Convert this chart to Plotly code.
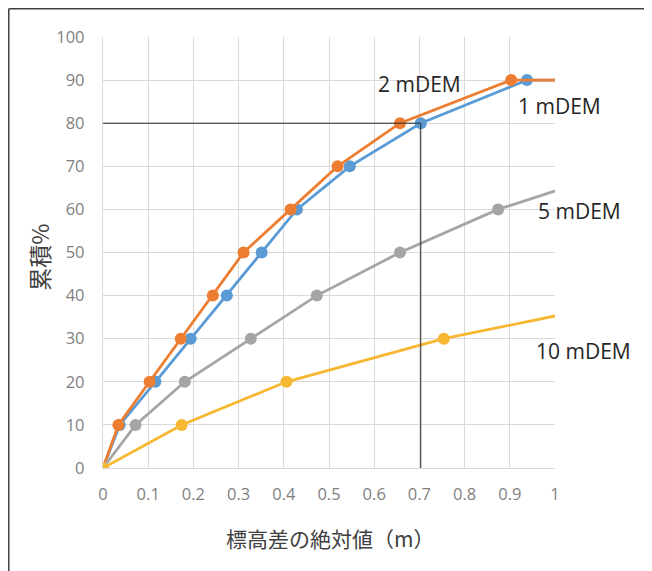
import plotly.graph_objects as go

y_levels = [0, 10, 20, 30, 40, 50, 60, 70, 80, 90, 90]
x_1m = [0, 0.037, 0.116, 0.194, 0.274, 0.351, 0.429, 0.546, 0.703, 0.938, 1.2]
x_2m = [0, 0.034, 0.103, 0.172, 0.243, 0.311, 0.415, 0.519, 0.657, 0.903, 1.2]
y_5m = [0, 10, 20, 30, 40, 50, 60, 70]
x_5m = [0, 0.072, 0.181, 0.327, 0.473, 0.657, 0.874, 1.17]
y_10m = [0, 10, 20, 30, 40]
x_10m = [0, 0.174, 0.406, 0.754, 1.22]

series = [
    ("1 mDEM", x_1m, y_levels, "#5b9bd5"),
    ("2 mDEM", x_2m, y_levels, "#ed7d31"),
    ("5 mDEM", x_5m, y_5m, "#a5a5a5"),
    ("10 mDEM", x_10m, y_10m, "#f7b731"),
]

ref_x = 0.703
ref_y = 80

fig = go.Figure()
for name, xs, ys, col in series:
    fig.add_trace(go.Scatter(x=xs, y=ys, mode="lines+markers", name=name,
                             line=dict(color=col, width=2.8),
                             marker=dict(color=col, size=12)))

# reference lines
fig.add_shape(type="line", x0=-0.005, x1=ref_x, y0=ref_y, y1=ref_y,
              line=dict(color="#262626", width=1), layer="above")
fig.add_shape(type="line", x0=ref_x, x1=ref_x, y0=ref_y, y1=-0.4,
              line=dict(color="#262626", width=1), layer="above")

# outer frame (top and left edges only are inside the page)
fig.add_shape(type="line", xref="paper", yref="paper", x0=-0.2085, x1=1.23,
              y0=1.0655, y1=1.0655, line=dict(color="#404040", width=1.5))
fig.add_shape(type="line", xref="paper", yref="paper", x0=-0.2085, x1=-0.2085,
              y0=-0.26, y1=1.0655, line=dict(color="#404040", width=1.5))

labels = [("2 mDEM", 0.70, 0.892), ("1 mDEM", 1.01, 0.841), ("5 mDEM", 1.055, 0.597),
          ("10 mDEM", 1.062, 0.271)]
for t, x, y in labels:
    fig.add_annotation(xref="paper", yref="paper", x=x, y=y, text=t,
                       showarrow=False, xanchor="center", yanchor="middle",
                       font=dict(family="Open Sans", size=21, color="#262626"))

fig.add_annotation(xref="paper", yref="paper", x=0.502, y=-0.163,
                   text="標高差の絶対値（m）", showarrow=False,
                   xanchor="center", yanchor="middle",
                   font=dict(family="Noto Sans CJK JP", size=21, color="#404040"))
fig.add_annotation(xref="paper", yref="paper", x=-0.142, y=0.49,
                   text="累積%", showarrow=False, textangle=-90,
                   xanchor="center", yanchor="middle",
                   font=dict(family="Noto Sans CJK JP", size=23, color="#404040"))

fig.update_layout(
    width=652, height=571,
    margin=dict(l=95, r=105, t=29, b=111),
    paper_bgcolor="white", plot_bgcolor="white",
    showlegend=False,
    xaxis=dict(range=[0, 1], showgrid=True,
               gridcolor="#d9d9d9", gridwidth=1.3, zeroline=False,
               showline=True, linecolor="#d9d9d9", linewidth=1.3,
               tickfont=dict(family="Open Sans", size=16.5, color="#7f7f7f"),
               ticks="outside", ticklen=11, tickcolor="rgba(0,0,0,0)",
               tickvals=[0, 0.1, 0.2, 0.3, 0.4, 0.5, 0.6, 0.7, 0.8, 0.9, 1],
               ticktext=["0", "0.1", "0.2", "0.3", "0.4", "0.5", "0.6", "0.7",
                         "0.8", "0.9", "1"]),
    yaxis=dict(range=[0, 100], dtick=10, showgrid=True, gridcolor="#d9d9d9",
               gridwidth=1.3, zeroline=False, showline=True,
               linecolor="#d9d9d9", linewidth=1.3,
               tickfont=dict(family="Open Sans", size=16.5, color="#7f7f7f"),
               ticks="outside", ticklen=14, tickcolor="rgba(0,0,0,0)"),
)

fig.write_html("out.html")
